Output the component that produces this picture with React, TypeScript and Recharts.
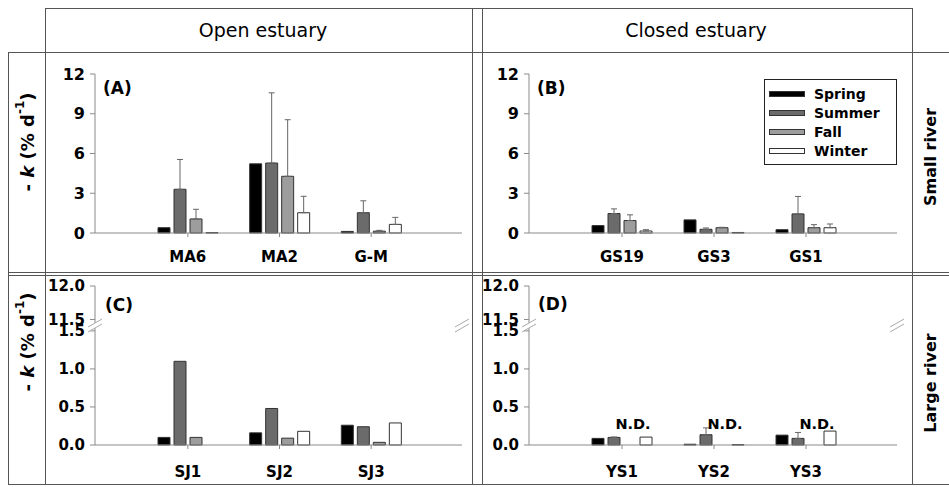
import React from 'react';
import { BarChart, Bar, XAxis, YAxis, ErrorBar, Legend, LabelList } from 'recharts';

const FONT = '"DejaVu Sans", Arial, sans-serif';
const AXIS = '#8a8a8a';
const GRID = '#555';

const seasons = ['Spring', 'Summer', 'Fall', 'Winter'];
const seasonFill = ['#000000', '#6b6b6b', '#9d9d9d', '#ffffff'];

// (A) open estuary / small river
const sitesA = ['MA6', 'MA2', 'G-M'];
const springA = [0.4, 5.22, 0.12];
const summerA = [3.3, 5.28, 1.53];
const fallA = [1.06, 4.28, 0.14];
const winterA = [0.03, 1.53, 0.65];
const springErrA = [null, null, null];
const summerErrA = [2.25, 5.3, 0.9];
const fallErrA = [0.73, 4.27, 0.06];
const winterErrA = [null, 1.24, 0.53];

// (B) closed estuary / small river
const sitesB = ['GS19', 'GS3', 'GS1'];
const springB = [0.56, 0.99, 0.25];
const summerB = [1.47, 0.28, 1.44];
const fallB = [0.94, 0.4, 0.4];
const winterB = [0.15, 0.04, 0.4];
const springErrB = [null, null, null];
const summerErrB = [0.35, 0.1, 1.32];
const fallErrB = [0.43, 0.03, 0.23];
const winterErrB = [0.1, null, 0.28];

// (C) open estuary / large river
const sitesC = ['SJ1', 'SJ2', 'SJ3'];
const springC = [0.1, 0.16, 0.26];
const summerC = [1.1, 0.48, 0.24];
const fallC = [0.1, 0.09, 0.035];
const winterC = [0, 0.18, 0.29];

// (D) closed estuary / large river, fall not determined
const sitesD = ['YS1', 'YS2', 'YS3'];
const springD = [0.087, 0.01, 0.13];
const summerD = [0.1, 0.135, 0.087];
const fallD = [null, null, null];
const winterD = [0.104, 0.005, 0.183];
const springErrD = [null, null, null];
const summerErrD = [0.005, 0.09, 0.078];
const fallErrD = [null, null, null];
const winterErrD = [null, null, null];

// y ticks
const ticksSmall = [0, 3, 6, 9, 12];
const lowTicks = [0, 0.5, 1.0, 1.5];
const highTicks = [11.5, 12.0];

// broken axis: 11.5-12.0 squeezed on top of 0-1.5
const BREAK_BASE = 1.65;
const HIGH_SQUEEZE = 0.88;
const brokenPos = (v: number) => (v <= 1.5 ? v : BREAK_BASE + (v - 11.5) * HIGH_SQUEEZE);
const brokenTicks = [...lowTicks, ...highTicks].map(brokenPos);
const brokenLabels = [...lowTicks, ...highTicks].map((v) => v.toFixed(1));
const brokenFmt = (v: number) => {
  const i = brokenTicks.findIndex((t) => Math.abs(t - v) < 1e-6);
  return i >= 0 ? brokenLabels[i] : '';
};

type Num = number | null;

function buildRows(sites: string[], vals: Num[][], errs?: Num[][], nd?: boolean) {
  return sites.map((site, i) => {
    const row: Record<string, any> = { site };
    seasons.forEach((s, k) => {
      const v = vals[k][i];
      row[s] = v ?? 0;
      const e = errs ? errs[k][i] : null;
      row[s + 'Err'] = e != null ? [0, e] : null;
    });
    if (nd) row.FallNd = vals[2][i] == null ? 'N.D.' : '';
    return row;
  });
}

const rowsA = buildRows(sitesA, [springA, summerA, fallA, winterA], [springErrA, summerErrA, fallErrA, winterErrA]);
const rowsB = buildRows(sitesB, [springB, summerB, fallB, winterB], [springErrB, summerErrB, fallErrB, winterErrB]);
const rowsC = buildRows(sitesC, [springC, summerC, fallC, winterC]);
const rowsD = buildRows(sitesD, [springD, summerD, fallD, winterD], [springErrD, summerErrD, fallErrD, winterErrD], true);

const BAR = 12;
const GAP = 4;

const renderLegend = () => (
  <div style={{ position: 'relative', width: 131, height: 84, border: '1px solid #222', background: '#fff' }}>
    {seasons.map((s, i) => (
      <div key={s} style={{ position: 'absolute', left: 4, top: 8 + i * 19, height: 12, display: 'flex', alignItems: 'center' }}>
        <span style={{ display: 'inline-block', width: 34, height: 4, background: seasonFill[i], border: '1px solid #333' }} />
        <span style={{ marginLeft: 9, font: `bold 14px ${FONT}`, color: '#000', lineHeight: '12px' }}>{s}</span>
      </div>
    ))}
  </div>
);

// N.D. label hung on the spring bar, shifted over to the (missing) fall slot
function ndLabel(p: any) {
  if (!p.value) return null;
  const vb = p.viewBox ?? p;
  const cx = vb.x + vb.width / 2 + 2 * (BAR + GAP) + 3;
  const base = vb.y + vb.height;
  return (
    <text x={cx} y={base - 16} textAnchor="middle" fontFamily={FONT} fontWeight="bold" fontSize={14.5} fill="#000">
      {p.value}
    </text>
  );
}

interface PanelProps {
  left: number;
  top: number;
  rows: Record<string, any>[];
  yMax: number;
  yTicks: number[];
  yFmt: (v: number) => string;
  yFont: number;
  xTickMargin: number;
  right: number;
  legend?: boolean;
  nd?: boolean;
}

function Panel({ left, top, rows, yMax, yTicks, yFmt, yFont, xTickMargin, right, legend, nd }: PanelProps) {
  return (
    <div style={{ position: 'absolute', left, top }}>
      <BarChart width={425} height={214} data={rows} margin={{ top: 18, right, bottom: 0, left: 0 }} barSize={BAR} barGap={GAP}>
        <XAxis
          dataKey="site"
          interval={0}
          height={37}
          padding={{ left: 47, right: 45 }}
          axisLine={{ stroke: AXIS }}
          tickLine={{ stroke: AXIS }}
          tickSize={4}
          tickMargin={xTickMargin}
          tick={{ fill: '#000', fontSize: 15, fontWeight: 'bold', fontFamily: FONT }}
        />
        <XAxis xAxisId="frame" orientation="top" dataKey="site" height={0} tick={false} tickLine={false} axisLine={{ stroke: AXIS }} />
        <YAxis
          domain={[0, yMax]}
          ticks={yTicks}
          interval={0}
          tickFormatter={yFmt}
          width={50}
          axisLine={{ stroke: AXIS }}
          tickLine={{ stroke: AXIS }}
          tickSize={5}
          tickMargin={5}
          tick={{ fill: '#000', fontSize: yFont, fontWeight: 'bold', fontFamily: FONT }}
        />
        <YAxis yAxisId="frame" orientation="right" domain={[0, 1]} width={0} tick={false} tickLine={false} axisLine={{ stroke: AXIS }} />
        {legend && (
          <Legend
            layout="vertical"
            align="center"
            verticalAlign="middle"
            content={renderLegend}
            wrapperStyle={{ left: 285, top: 23, width: 133 }}
          />
        )}
        {seasons.map((s, i) => (
          <Bar key={s} dataKey={s} name={s} fill={seasonFill[i]} stroke="#333" strokeWidth={1} isAnimationActive={false}>
            <ErrorBar dataKey={s + 'Err'} direction="y" width={3} stroke="#666" strokeWidth={1} />
            {nd && s === 'Spring' && <LabelList dataKey="FallNd" content={ndLabel} />}
          </Bar>
        ))}
      </BarChart>
    </div>
  );
}

function BreakMark({ x, y }: { x: number; y: number }) {
  return (
    <g>
      <polygon points={`${x - 7},${y + 2} ${x + 7},${y - 6} ${x + 7},${y - 1} ${x - 7},${y + 7}`} fill="#fff" />
      <line x1={x - 7} y1={y + 2} x2={x + 7} y2={y - 6} stroke="#aaa" />
      <line x1={x - 7} y1={y + 7} x2={x + 7} y2={y - 1} stroke="#aaa" />
    </g>
  );
}

function YLabel({ x, y }: { x: number; y: number }) {
  return (
    <text transform={`translate(${x},${y}) rotate(-90)`} textAnchor="middle" dominantBaseline="central" fontFamily={FONT} fontWeight="bold" fontSize={18} fill="#000">
      {'- '}
      <tspan fontStyle="italic">k</tspan>
      {' (% d'}
      <tspan dy={-7} fontSize={12}>-1</tspan>
      <tspan dy={7}>)</tspan>
    </text>
  );
}

export default function App() {
  const W = 949;
  const H = 487;
  return (
    <div style={{ position: 'absolute', left: 0, top: 0, width: W, height: H, background: '#fff', fontFamily: FONT }}>
      <Panel left={45} top={56} rows={rowsA} yMax={12} yTicks={ticksSmall} yFmt={(v) => String(v)} yFont={16} xTickMargin={14} right={8} />
      <Panel left={479} top={56} rows={rowsB} yMax={12} yTicks={ticksSmall} yFmt={(v) => String(v)} yFont={16} xTickMargin={14} right={7} legend />
      <Panel left={45} top={268} rows={rowsC} yMax={brokenPos(12)} yTicks={brokenTicks} yFmt={brokenFmt} yFont={15} xTickMargin={17} right={8} />
      <Panel left={479} top={268} rows={rowsD} yMax={brokenPos(12)} yTicks={brokenTicks} yFmt={brokenFmt} yFont={15} xTickMargin={17} right={7} nd />

      <svg width={W} height={H} style={{ position: 'absolute', left: 0, top: 0, pointerEvents: 'none' }}>
        <g stroke={GRID} strokeWidth={1} shapeRendering="crispEdges">
          <line x1={45} y1={8.5} x2={912} y2={8.5} />
          <line x1={8} y1={52.5} x2={949} y2={52.5} />
          <line x1={8} y1={272.5} x2={949} y2={272.5} />
          <line x1={8} y1={275.5} x2={949} y2={275.5} />
          <line x1={8} y1={484.5} x2={949} y2={484.5} />
          <line x1={8.5} y1={52} x2={8.5} y2={485} />
          <line x1={45.5} y1={8} x2={45.5} y2={485} />
          <line x1={472.5} y1={8} x2={472.5} y2={485} />
          <line x1={482.5} y1={8} x2={482.5} y2={485} />
          <line x1={912.5} y1={8} x2={912.5} y2={485} />
        </g>

        <text x={263} y={37} textAnchor="middle" fontFamily={FONT} fontSize={19} fill="#000">Open estuary</text>
        <text x={696} y={37} textAnchor="middle" fontFamily={FONT} fontSize={19} fill="#000">Closed estuary</text>

        <text transform="translate(930,157) rotate(-90)" textAnchor="middle" dominantBaseline="central" fontFamily={FONT} fontWeight="bold" fontSize={16} fill="#000">Small river</text>
        <text transform="translate(930,383) rotate(-90)" textAnchor="middle" dominantBaseline="central" fontFamily={FONT} fontWeight="bold" fontSize={16} fill="#000">Large river</text>

        <YLabel x={27} y={142} />
        <YLabel x={27} y={342} />

        <g fontFamily={FONT} fontWeight="bold" fontSize={17} fill="#000">
          <text x={103} y={94}>(A)</text>
          <text x={537} y={94}>(B)</text>
          <text x={105} y={311}>(C)</text>
          <text x={538} y={310}>(D)</text>
        </g>

        <BreakMark x={95} y={325} />
        <BreakMark x={462} y={325} />
        <BreakMark x={529} y={325} />
        <BreakMark x={897} y={325} />
      </svg>
    </div>
  );
}
